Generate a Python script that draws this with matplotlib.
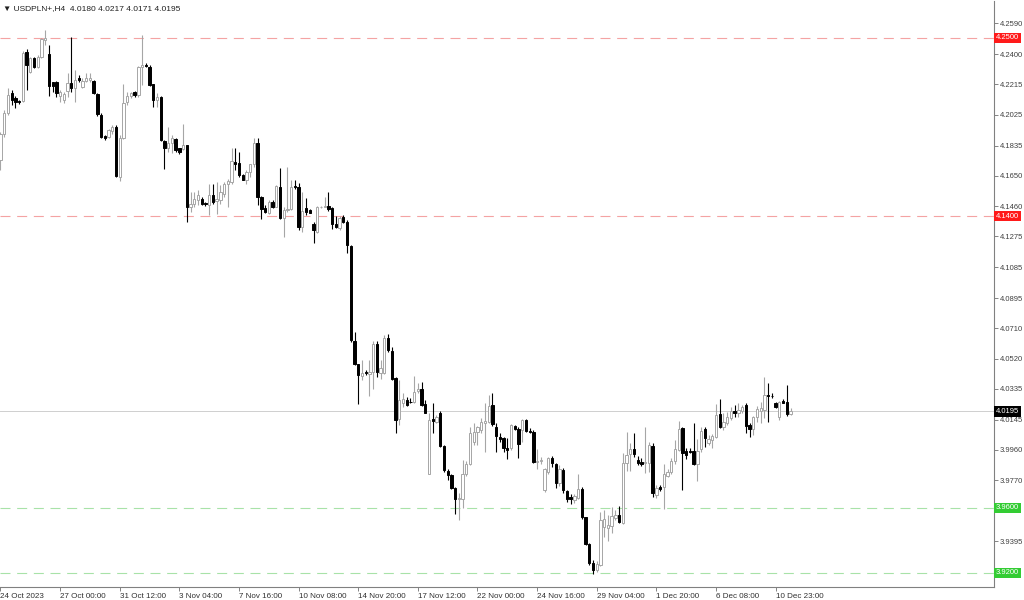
import matplotlib
matplotlib.use('Agg')
import matplotlib.pyplot as plt
import numpy as np

plt.rcParams['font.family'] = ['Liberation Sans', 'DejaVu Sans']

# USDPLN+ H4 candles (oldest first)
opens = [
    4.1746, 4.1910, 4.2040, 4.2158, 4.2131, 4.2108, 4.2110, 4.2411, 4.2292, 4.2374, 4.2322, 4.2384,
    4.2487, 4.2399, 4.2226, 4.2226, 4.2143, 4.2116, 4.2172, 4.2220, 4.2189, 4.2250, 4.2199, 4.2234,
    4.2240, 4.2234, 4.2152, 4.2024, 4.1896, 4.1890, 4.1925, 4.1952, 4.1643, 4.1880, 4.2102, 4.2143,
    4.2166, 4.2147, 4.2318, 4.2333, 4.2322, 4.2215, 4.2116, 4.2137, 4.1865, 4.1824, 4.1849, 4.1879,
    4.1818, 4.1814, 4.1838, 4.1457, 4.1478, 4.1498, 4.1509, 4.1482, 4.1467, 4.1529, 4.1494, 4.1498,
    4.1535, 4.1601, 4.1612, 4.1735, 4.1729, 4.1653, 4.1622, 4.1673, 4.1721, 4.1849, 4.1519,
    4.1448, 4.1421, 4.1489, 4.1458, 4.1582, 4.1392, 4.1438, 4.1442, 4.1586, 4.1578, 4.1335, 4.1448,
    4.1438, 4.1355, 4.1304, 4.1454, 4.1458, 4.1462, 4.1448, 4.1355, 4.1330, 4.1396, 4.1365, 4.1217,
    4.0630, 4.0486, 4.0412, 4.0438, 4.0428, 4.0438, 4.0609, 4.0432, 4.0432, 4.0651, 4.0568,
    4.0402, 4.0146, 4.0245, 4.0266, 4.0253, 4.0255, 4.0323, 4.0332, 4.0241, 3.9812, 4.0146, 4.0132,
    4.0187, 3.9981, 3.9829, 3.9802, 3.9720, 3.9658, 3.9658, 3.9808, 3.9870, 4.0008, 4.0070, 4.0080,
    4.0126, 4.0132, 4.0235, 4.0101, 4.0039, 4.0029, 3.9971, 3.9967, 4.0105, 4.0084, 4.0080,
    4.0142, 4.0076, 4.0070, 3.9885, 3.9889, 3.9710, 3.9823, 3.9906, 3.9870, 3.9751, 3.9833, 3.9706,
    3.9669, 3.9648, 3.9664, 3.9714, 3.9541, 3.9380, 3.9257, 3.9215, 3.9246, 3.9483, 3.9473, 3.9487,
    3.9535, 3.9555, 3.9508, 3.9879, 3.9932, 3.9961, 3.9895, 3.9885, 3.9875, 3.9875, 3.9984,
    3.9678, 3.9730, 3.9730, 3.9796, 3.9823, 3.9891, 3.9957, 4.0090, 3.9952, 3.9952, 3.9952, 3.9870,
    3.9961, 4.0084, 4.0002, 4.0018, 4.0039, 4.0177, 4.0097, 4.0126, 4.0152, 4.0200, 4.0183, 4.0200,
    4.0235, 4.0111, 4.0084, 4.0158, 4.0200, 4.0204, 4.0296, 4.0292, 4.0249, 4.0163, 4.0261, 4.0253,
    4.0180,
]
highs = [
    4.1921, 4.2055, 4.2189, 4.2178, 4.2143, 4.2116, 4.2419, 4.2432, 4.2384, 4.2384, 4.2395, 4.2502,
    4.2549, 4.2456, 4.2230, 4.2234, 4.2178, 4.2168, 4.2281, 4.2508, 4.2302, 4.2271, 4.2250, 4.2281,
    4.2281, 4.2240, 4.2158, 4.2034, 4.1900, 4.1937, 4.1962, 4.1962, 4.1900, 4.2219, 4.2168, 4.2168,
    4.2172, 4.2327, 4.2518, 4.2343, 4.2333, 4.2219, 4.2158, 4.2141, 4.1869, 4.1952, 4.1900, 4.1884,
    4.1824, 4.1972, 4.1842, 4.1550, 4.1550, 4.1560, 4.1519, 4.1488, 4.1601, 4.1601, 4.1612, 4.1591,
    4.1612, 4.1632, 4.1818, 4.1818, 4.1797, 4.1663, 4.1684, 4.1725, 4.1884, 4.1884, 4.1525,
    4.1468, 4.1499, 4.1499, 4.1592, 4.1695, 4.1454, 4.1705, 4.1623, 4.1623, 4.1602, 4.1551, 4.1510,
    4.1442, 4.1365, 4.1462, 4.1462, 4.1520, 4.1551, 4.1454, 4.1401, 4.1401, 4.1407, 4.1376, 4.1221,
    4.0686, 4.0490, 4.0511, 4.0449, 4.0511, 4.0630, 4.0630, 4.0511, 4.0665, 4.0675, 4.0593,
    4.0410, 4.0389, 4.0307, 4.0286, 4.0276, 4.0414, 4.0369, 4.0379, 4.0266, 4.0183, 4.0245, 4.0173,
    4.0200, 3.9987, 3.9843, 3.9808, 3.9726, 3.9689, 3.9895, 3.9891, 4.0101, 4.0121, 4.0105, 4.0152,
    4.0245, 4.0296, 4.0307, 4.0121, 4.0060, 4.0039, 4.0029, 4.0117, 4.0111, 4.0101, 4.0146,
    4.0147, 4.0091, 4.0081, 3.9961, 3.9916, 3.9844, 3.9912, 3.9920, 3.9875, 3.9864, 3.9844, 3.9710,
    3.9685, 3.9685, 3.9809, 3.9726, 3.9545, 3.9384, 3.9277, 3.9273, 3.9576, 3.9590, 3.9555, 3.9603,
    3.9586, 3.9611, 3.9936, 4.0070, 3.9998, 4.0060, 3.9920, 3.9906, 4.0097, 4.0008, 3.9998,
    3.9740, 3.9740, 3.9870, 3.9841, 3.9911, 4.0018, 4.0138, 4.0101, 3.9967, 3.9967, 4.0126, 4.0023,
    4.0097, 4.0097, 4.0049, 4.0055, 4.0241, 4.0270, 4.0183, 4.0193, 4.0224, 4.0235, 4.0249, 4.0235,
    4.0245, 4.0121, 4.0167, 4.0229, 4.0255, 4.0410, 4.0369, 4.0307, 4.0255, 4.0261, 4.0270, 4.0358,
    4.0217,
]
lows = [
    4.1684, 4.1890, 4.2024, 4.2086, 4.2069, 4.2090, 4.2102, 4.2178, 4.2281, 4.2312, 4.2316, 4.2378,
    4.2456, 4.2143, 4.2168, 4.2137, 4.2106, 4.2096, 4.2137, 4.2168, 4.2102, 4.2230, 4.2189, 4.2226,
    4.2230, 4.2152, 4.2020, 4.1880, 4.1869, 4.1880, 4.1910, 4.1643, 4.1616, 4.1875, 4.2086, 4.2127,
    4.2137, 4.2137, 4.2209, 4.2318, 4.2203, 4.2075, 4.2075, 4.1865, 4.1694, 4.1797, 4.1791, 4.1797,
    4.1787, 4.1807, 4.1364, 4.1426, 4.1457, 4.1467, 4.1467, 4.1461, 4.1406, 4.1478, 4.1416, 4.1478,
    4.1519, 4.1457, 4.1601, 4.1684, 4.1643, 4.1622, 4.1601, 4.1643, 4.1704, 4.1467, 4.1385,
    4.1417, 4.1413, 4.1448, 4.1454, 4.1380, 4.1273, 4.1427, 4.1438, 4.1565, 4.1314, 4.1304, 4.1407,
    4.1417, 4.1232, 4.1298, 4.1448, 4.1454, 4.1433, 4.1324, 4.1330, 4.1318, 4.1359, 4.1170, 4.0624,
    4.0480, 4.0243, 4.0387, 4.0418, 4.0288, 4.0335, 4.0408, 4.0397, 4.0428, 4.0562, 4.0387,
    4.0060, 4.0111, 4.0224, 4.0229, 4.0245, 4.0249, 4.0311, 4.0229, 4.0183, 3.9808, 4.0060, 4.0121,
    3.9973, 3.9823, 3.9771, 3.9714, 3.9561, 3.9528, 3.9602, 3.9796, 3.9864, 3.9987, 3.9987, 4.0060,
    3.9946, 4.0121, 4.0105, 3.9946, 4.0008, 3.9946, 3.9899, 3.9957, 4.0080, 3.9905, 4.0008,
    4.0070, 4.0060, 3.9875, 3.9838, 3.9870, 3.9699, 3.9809, 3.9854, 3.9720, 3.9735, 3.9693, 3.9638,
    3.9623, 3.9632, 3.9658, 3.9529, 3.9370, 3.9246, 3.9195, 3.9205, 3.9240, 3.9421, 3.9397, 3.9446,
    3.9524, 3.9508, 3.9500, 3.9829, 3.9829, 3.9916, 3.9864, 3.9858, 3.9813, 3.9823, 3.9669,
    3.9664, 3.9705, 3.9596, 3.9788, 3.9812, 3.9874, 3.9952, 3.9709, 3.9899, 3.9940, 3.9862, 3.9767,
    3.9946, 3.9973, 3.9987, 3.9967, 4.0029, 4.0090, 4.0080, 4.0111, 4.0142, 4.0163, 4.0163, 4.0183,
    4.0060, 4.0039, 4.0049, 4.0132, 4.0121, 4.0152, 4.0132, 4.0276, 4.0214, 4.0142, 4.0245, 4.0167,
    4.0171,
]
closes = [
    4.1910, 4.2034, 4.2147, 4.2116, 4.2106, 4.2104, 4.2405, 4.2333, 4.2374, 4.2322, 4.2384, 4.2493,
    4.2498, 4.2203, 4.2205, 4.2158, 4.2168, 4.2152, 4.2220, 4.2189, 4.2240, 4.2238, 4.2234, 4.2255,
    4.2255, 4.2158, 4.2028, 4.1890, 4.1880, 4.1931, 4.1952, 4.1649, 4.1880, 4.2096, 4.2143, 4.2158,
    4.2147, 4.2318, 4.2331, 4.2327, 4.2209, 4.2116, 4.2137, 4.1869, 4.1824, 4.1849, 4.1884, 4.1807,
    4.1797, 4.1838, 4.1457, 4.1478, 4.1509, 4.1529, 4.1478, 4.1474, 4.1529, 4.1488, 4.1509, 4.1550,
    4.1601, 4.1618, 4.1739, 4.1725, 4.1653, 4.1626, 4.1673, 4.1721, 4.1853, 4.1519, 4.1447,
    4.1427, 4.1489, 4.1458, 4.1586, 4.1392, 4.1438, 4.1446, 4.1582, 4.1578, 4.1335, 4.1433, 4.1427,
    4.1421, 4.1314, 4.1454, 4.1458, 4.1462, 4.1442, 4.1351, 4.1335, 4.1392, 4.1365, 4.1221, 4.0634,
    4.0490, 4.0418, 4.0432, 4.0432, 4.0441, 4.0609, 4.0438, 4.0465, 4.0651, 4.0572, 4.0397,
    4.0142, 4.0266, 4.0270, 4.0237, 4.0251, 4.0317, 4.0336, 4.0235, 4.0187, 4.0142, 4.0138, 4.0163,
    3.9981, 3.9833, 3.9802, 3.9720, 3.9658, 3.9664, 3.9808, 3.9870, 4.0064, 4.0070, 4.0097, 4.0132,
    4.0136, 4.0229, 4.0117, 4.0043, 4.0023, 3.9967, 3.9957, 4.0111, 4.0084, 3.9994, 4.0142,
    4.0076, 4.0070, 3.9885, 3.9891, 3.9893, 3.9838, 3.9906, 3.9875, 3.9751, 3.9838, 3.9710, 3.9652,
    3.9652, 3.9673, 3.9714, 3.9541, 3.9380, 3.9257, 3.9215, 3.9252, 3.9524, 3.9529, 3.9493, 3.9549,
    3.9555, 3.9514, 3.9879, 3.9926, 3.9961, 3.9932, 3.9879, 3.9870, 3.9885, 3.9988, 3.9689,
    3.9720, 3.9714, 3.9808, 3.9821, 3.9891, 3.9965, 4.0088, 3.9936, 3.9926, 3.9948, 3.9870, 3.9952,
    4.0076, 4.0029, 4.0023, 4.0043, 4.0173, 4.0097, 4.0132, 4.0158, 4.0200, 4.0183, 4.0204, 4.0224,
    4.0105, 4.0084, 4.0163, 4.0208, 4.0214, 4.0294, 4.0290, 4.0290, 4.0220, 4.0255, 4.0249, 4.0179,
    4.0195,
]

time_labels = ['24 Oct 2023', '27 Oct 00:00', '31 Oct 12:00', '3 Nov 04:00', '7 Nov 16:00',
               '10 Nov 08:00', '14 Nov 20:00', '17 Nov 12:00', '22 Nov 00:00', '24 Nov 16:00',
               '29 Nov 04:00', '1 Dec 20:00', '6 Dec 08:00', '10 Dec 23:00']
label_every = 16  # bars between time labels

price_ticks = [4.2590, 4.2400, 4.2215, 4.2025, 4.1835, 4.1650, 4.1460, 4.1275, 4.1085, 4.0895,
               4.0710, 4.0520, 4.0335, 4.0145, 3.9960, 3.9770, 3.9585, 3.9395, 3.9205]
# these two sit under the level boxes, so only the tick mark shows
hidden_ticks = [3.9585, 3.9205]

red_levels = [4.2500, 4.1400]
green_levels = [3.9600, 3.9200]
last_price = 4.0195

o = np.array(opens); h = np.array(highs); l = np.array(lows); c = np.array(closes)
x = np.arange(len(o))
up = c >= o

fig = plt.figure(figsize=(10.24, 6), dpi=100)
ax = fig.add_axes([0.0, 0.0217, 0.9707, 0.9766])

up_col = '#a6a6a6'
dn_col = '#000000'

ax.vlines(x[up], l[up], h[up], color=up_col, lw=0.8, zorder=3)
ax.vlines(x[~up], l[~up], h[~up], color=dn_col, lw=0.8, zorder=3)
body_lo = np.minimum(o, c)
body_h = np.maximum(np.abs(c - o), 0.00025)
ax.bar(x[up], body_h[up], bottom=body_lo[up], width=0.62, color='white', edgecolor=up_col, lw=0.7, zorder=4)
ax.bar(x[~up], body_h[~up], bottom=body_lo[~up], width=0.62, color=dn_col, edgecolor=dn_col, lw=0.7, zorder=4)

# level lines
for lv in red_levels:
    ax.axhline(lv, color='#f4a3a3', lw=0.8, ls=(0, (9, 6)), zorder=1)
for lv in green_levels:
    ax.axhline(lv, color='#a8e2a8', lw=0.8, ls=(0, (9, 6)), zorder=1)
ax.axhline(last_price, color='#cfcfcf', lw=0.7, zorder=1)

ax.set_xlim(-0.13, 266.6)
ax.set_ylim(3.9112, 4.2728)

ax.set_yticks(price_ticks)
ax.set_yticklabels(['' if p in hidden_ticks else f'{p:.4f}' for p in price_ticks])
ax.yaxis.tick_right()
ax.tick_params(axis='y', right=True, left=False, length=3, width=0.6, color='#707070',
               labelsize=5.5, labelcolor='#404040', pad=1.2)

ax.set_xticks(np.arange(len(time_labels)) * label_every)
ax.set_xticklabels(time_labels, ha='left')
ax.tick_params(axis='x', length=3, width=0.6, color='#707070', labelsize=5.8,
               labelcolor='#303030', pad=1)

for s in ['left', 'top']:
    ax.spines[s].set_visible(False)
for s in ['right', 'bottom']:
    ax.spines[s].set_color('#808080')
    ax.spines[s].set_linewidth(0.8)

# price boxes on the right scale
trans = ax.get_yaxis_transform()
box_kw = dict(transform=trans, ha='left', va='center', fontsize=5.5, color='white',
              clip_on=False, zorder=6)
for lv in red_levels:
    ax.text(1.002, lv, f'{lv:.4f}', bbox=dict(boxstyle='square,pad=0.2', fc='#ff1a1a', ec='none'), **box_kw)
for lv in green_levels:
    ax.text(1.002, lv, f'{lv:.4f}', bbox=dict(boxstyle='square,pad=0.2', fc='#33cc33', ec='none'), **box_kw)
ax.text(1.002, last_price, f'{last_price:.4f}', bbox=dict(boxstyle='square,pad=0.2', fc='black', ec='none'), **box_kw)

ax.text(0.003, 0.993, '\u25bc USDPLN+,H4  4.0180 4.0217 4.0171 4.0195', transform=ax.transAxes,
        ha='left', va='top', fontsize=6, color='#202020')

fig.savefig('out.png', dpi=100)
